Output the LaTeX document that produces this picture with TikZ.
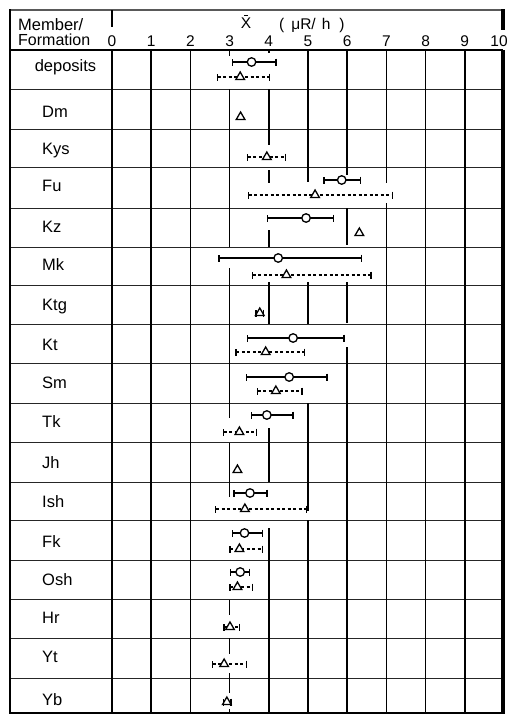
\documentclass[tikz,border=0pt]{standalone}
\usepackage{fontspec}
\setmainfont{Liberation Sans}
\usetikzlibrary{arrows.meta,shapes.geometric}
\newcommand{\myvx}[1]{112+39.2*#1}
\newcommand{\mycbar}[5]{%
  \coordinate (#1L) at ({\myvx{#2}},#5);
  \coordinate (#1R) at ({\myvx{#4}},#5);
  \draw[sbar] (#1L) -- (#1R);
  \node[cmark] (#1) at ({\myvx{#3}},#5) {};}
\newcommand{\mytbar}[5]{%
  \coordinate (#1L) at ({\myvx{#2}},#5);
  \coordinate (#1R) at ({\myvx{#4}},#5);
  \draw[dbar] (#1L) -- (#1R);
  \node[tmark] (#1) at ({\myvx{#3}},#5) {};}
\newcommand{\mytpt}[3]{%
  \node[tmark] (#1) at ({\myvx{#2}},#3) {};}
\begin{document}
\begin{tikzpicture}[x=1pt,y=-1pt,
  gridline/.style={line width=1.5pt},
  rowline/.style={line width=1pt,black!85},
  sbar/.style={line width=1.4pt,{Bar[width=7pt]}-{Bar[width=7pt]}},
  dbar/.style={line width=1.1pt,dash pattern=on 3pt off 2.5pt,{Bar[width=7pt,line width=1.3pt]}-{Bar[width=7pt,line width=1.3pt]}},
  cmark/.style={circle,draw,fill=white,line width=1.3pt,minimum size=8.5pt,inner sep=0pt},
  tmark/.style={regular polygon,regular polygon sides=3,draw,fill=white,line width=1.3pt,minimum size=10pt,inner sep=0pt},
  lbl/.style={anchor=base west,inner sep=0pt,font=\fontsize{16.5}{19}\selectfont},
  numlbl/.style={anchor=base,inner sep=0pt,font=\fontsize{15.5}{18}\selectfont}]
\fill[white] (0,0) rectangle (510,718);
\useasboundingbox (0,0) rectangle (510,718);

% horizontal row lines
\foreach \y in {89,129,167,208,247,285,324,363,403,442,482,520,560,599,638,678}
  \draw[rowline] (10,\y) -- (503,\y);
\draw[line width=1.3pt] (10,50) -- (503,50);
\draw[line width=2pt,black!65] (10,10) -- (503,10);
\draw[line width=2pt] (10,713) -- (503,713);
\draw[line width=2.2pt] (10,9) -- (10,714);
\draw[line width=3.2pt] (503,9) -- (503,30);
\draw[line width=3.2pt] (503,50) -- (503,714);
\draw[gridline] (112,10) -- (112,27);

% vertical grid lines (with gaps as in the original)
\foreach \v in {0,1,2,8,9}
  \draw[gridline] ({\myvx{\v}},50) -- ({\myvx{\v}},713);
\foreach \a/\b in {50/56,89/247,268/418,443/497,600/615,638/654,673/693,709/713}
  \draw[gridline] ({\myvx{3}},\a) -- ({\myvx{3}},\b);
\foreach \a/\b in {50/53,89/145,170/183,230/247,282/324,428/482,528/713}
  \draw[gridline] ({\myvx{4}},\a) -- ({\myvx{4}},\b);
\foreach \a/\b in {50/182,282/324,403/511,520/713}
  \draw[gridline] ({\myvx{5}},\a) -- ({\myvx{5}},\b);
\foreach \a/\b in {50/175,208/245,282/323,347/713}
  \draw[gridline] ({\myvx{6}},\a) -- ({\myvx{6}},\b);
\foreach \a/\b in {50/183,203/713}
  \draw[gridline] ({\myvx{7}},\a) -- ({\myvx{7}},\b);

% header
\node[anchor=base west,inner sep=0pt,font=\fontsize{16.5}{19}\selectfont] (hmem) at (18,30) {Member/};
\node[anchor=base west,inner sep=0pt,font=\fontsize{16}{19}\selectfont] (hform) at (18,45) {Formation};
\foreach \v in {0,...,9}
  \node[numlbl] (n\v) at ({\myvx{\v}},46.7) {\v};
\node[numlbl] (n10) at (499,46.7) {10};
\node[numlbl] (xl) at (246,28.5) {X};
\draw[line width=1pt] ([xshift=-2pt,yshift=2.5pt]xl.north) -- ([xshift=2pt,yshift=2.5pt]xl.north);
\node[anchor=base west,inner sep=0pt,font=\fontsize{15.5}{18}\selectfont] (unit) at (279,29) {(\hspace{7pt}μR/\hspace{6pt}h\hspace{9pt})};

% row labels
\node[anchor=base,inner sep=0pt,font=\fontsize{16.5}{19}\selectfont] (ldep) at (65.5,71.7) {deposits};
\foreach \n/\c in {Dm/111,Kys/148.5,Fu/185.3,Kz/226,Mk/264,Ktg/304,Kt/344,Sm/382.5,Tk/421,Jh/462.5,Ish/501,Fk/541,Osh/579,Hr/617.5,Yt/656,Yb/699}
  \node[lbl] (l\n) at (42,\c+6) {\n};

% data
\mycbar{depC}{3.05}{3.56}{4.20}{62}
\mytbar{depT}{2.67}{3.27}{4.03}{77}
\mytpt{DmT}{3.28}{117}
\mytbar{KysT}{3.44}{3.95}{4.45}{157}
\mycbar{FuC}{5.39}{5.86}{6.35}{180}
\mytbar{FuT}{3.46}{5.18}{7.17}{195}
\mycbar{KzC}{3.95}{4.95}{5.67}{218}
\mytpt{KzT}{6.31}{233}
\mycbar{MkC}{2.71}{4.24}{6.39}{258}
\mytbar{MkT}{3.56}{4.45}{6.62}{275}
\mytbar{KtgT}{3.66}{3.77}{3.89}{313}
\mycbar{KtC}{3.44}{4.62}{5.94}{338}
\mytbar{KtT}{3.15}{3.92}{4.92}{352}
\mycbar{SmC}{3.42}{4.52}{5.50}{377}
\mytbar{SmT}{3.69}{4.18}{4.86}{391}
\mycbar{TkC}{3.54}{3.95}{4.64}{415}
\mytbar{TkT}{2.82}{3.25}{3.71}{432}
\mytpt{JhT}{3.20}{470}
\mycbar{IshC}{3.09}{3.52}{3.97}{493}
\mytbar{IshT}{2.63}{3.39}{4.97}{509}
\mycbar{FkC}{3.05}{3.38}{3.86}{533}
\mytbar{FkT}{2.99}{3.25}{3.86}{549}
\mycbar{OshC}{3.01}{3.27}{3.52}{572}
\mytbar{OshT}{2.99}{3.20}{3.60}{587}
\mytbar{HrT}{2.84}{3.01}{3.27}{627}
\mytbar{YtT}{2.54}{2.86}{3.44}{664}
\mytbar{YbT}{2.82}{2.93}{3.05}{702}
\end{tikzpicture}
\end{document}
